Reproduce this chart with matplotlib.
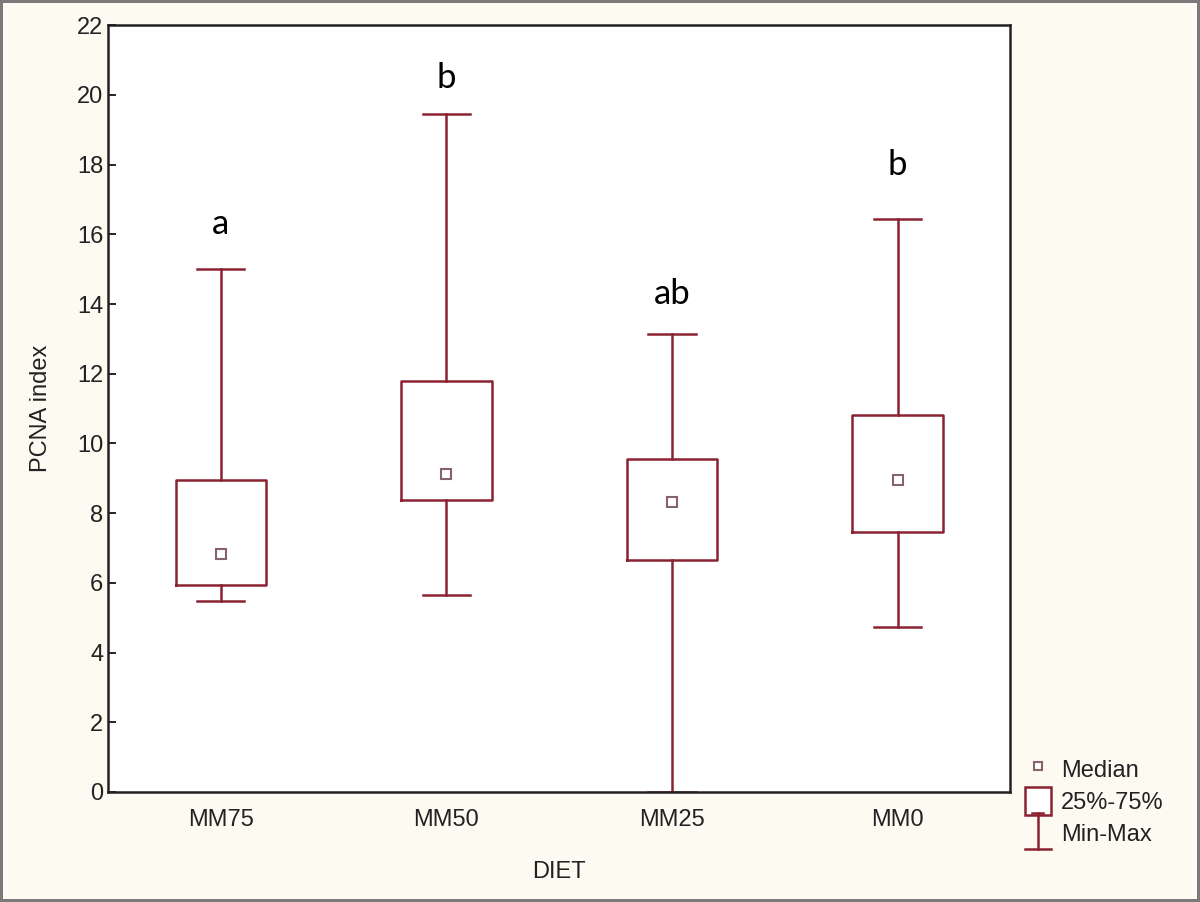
import matplotlib
matplotlib.use('Agg')
import matplotlib.pyplot as plt
from matplotlib.lines import Line2D
from matplotlib.patches import Patch
from matplotlib.legend_handler import HandlerBase

diets = ['MM75', 'MM50', 'MM25', 'MM0']
mins = [5.47, 5.64, 0.0, 4.72]
q1 = [5.93, 8.37, 6.65, 7.45]
medians = [6.82, 9.11, 8.31, 8.95]
q3 = [8.94, 11.78, 9.54, 10.82]
maxs = [15.01, 19.46, 13.15, 16.45]
letters = ['a', 'b', 'ab', 'b']
letter_y = [16.3, 20.5, 14.3, 18.0]

red = '#8b2232'
bg = '#fdfaf2'

plt.rcParams['font.family'] = ['Liberation Sans', 'DejaVu Sans']

fig = plt.figure(figsize=(12, 9.02), dpi=100)
fig.patch.set_facecolor(bg)
fig.patch.set_edgecolor('#7a7a7a')
fig.patch.set_linewidth(3)
ax = fig.add_axes([0.09, 0.122, 0.752, 0.85])
ax.set_facecolor('white')

stats = []
for i in range(len(diets)):
    stats.append({'med': medians[i], 'q1': q1[i], 'q3': q3[i],
                  'whislo': mins[i], 'whishi': maxs[i], 'mean': medians[i],
                  'fliers': [], 'label': diets[i]})

ax.bxp(stats, positions=range(1, 5), widths=0.4, capwidths=0.21,
       showmeans=True, showfliers=False,
       boxprops=dict(color=red, linewidth=1.8),
       whiskerprops=dict(color=red, linewidth=1.8),
       capprops=dict(color=red, linewidth=1.8),
       medianprops=dict(visible=False),
       meanprops=dict(marker='s', markerfacecolor='white', markeredgecolor='#86646a',
                      markersize=7, markeredgewidth=1.5))

for i, t in enumerate(letters):
    ax.text(i + 1, letter_y[i], t, ha='center', va='center', fontsize=25,
            family=['Lato', 'DejaVu Sans'], color='black')

ax.set_xlim(0.5, 4.5)
ax.set_ylim(0, 22)
ax.set_yticks(range(0, 23, 2))
ax.tick_params(direction='in', length=6, width=1.2, labelsize=17, colors='black',
               labelcolor='#222222')
ax.tick_params(axis='x', length=0, pad=12)
for s in ax.spines.values():
    s.set_linewidth(1.8)
    s.set_color('#222222')

ax.set_xlabel('DIET', fontsize=17, color='#222222', labelpad=22)
ax.set_ylabel('PCNA index', fontsize=17, color='#222222', labelpad=18)


class HandlerMinMax(HandlerBase):
    def create_artists(self, legend, orig_handle, xdescent, ydescent,
                       width, height, fontsize, trans):
        cx = width / 2 - xdescent
        top = height * 1.0
        bot = -height * 0.3
        v = Line2D([cx, cx], [bot, top], color=red, lw=1.8, transform=trans)
        t = Line2D([cx - width * 0.2, cx + width * 0.2], [top, top], color=red, lw=1.8, transform=trans)
        b = Line2D([cx - width * 0.5, cx + width * 0.5], [bot, bot], color=red, lw=1.8, transform=trans)
        return [v, t, b]


h_med = Line2D([], [], marker='s', markerfacecolor='white', markeredgecolor='#86646a',
               markersize=6, markeredgewidth=1.5, linestyle='')
h_box = Patch(facecolor='white', edgecolor=red, linewidth=1.8)
h_mm = object()
fig.legend([h_med, h_box, h_mm], ['Median', '25%-75%', 'Min-Max'],
           handler_map={h_mm: HandlerMinMax()},
           loc='upper left', bbox_to_anchor=(0.840, 0.181), frameon=False,
           fontsize=17, handlelength=1.1, handleheight=1.4, handletextpad=0.45,
           labelspacing=0.2, borderpad=0.2, labelcolor='#222222')

fig.savefig('out.png', dpi=100, facecolor=fig.get_facecolor(), edgecolor=fig.get_edgecolor())
